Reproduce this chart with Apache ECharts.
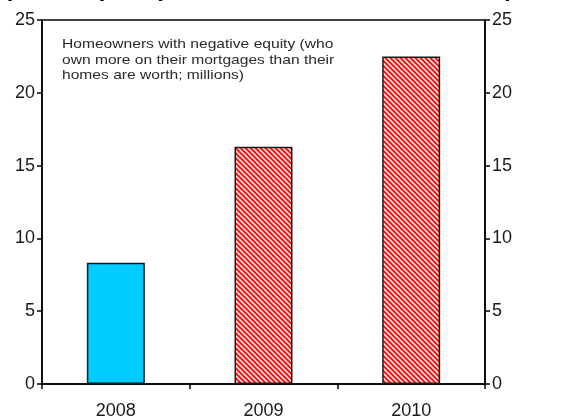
<!DOCTYPE html>
<html>
<head>
<meta charset="utf-8">
<script src="https://cdn.jsdelivr.net/npm/echarts@6/dist/echarts.min.js"></script>
<style>
  html, body { margin: 0; padding: 0; background: #fff; }
  #chart { width: 579px; height: 416px; }
</style>
</head>
<body>
<div id="chart"></div>
<script>
// Homeowners with negative equity, millions
const years = ['2008', '2009', '2010'];
const negEquity = [8.33, 16.3, 22.5];
const yTicks = { min: 0, max: 25, interval: 5 };
const noteLines = [
  'Homeowners with negative equity (who',
  'own more on their mortgages than their',
  'homes are worth; millions)'
];
const titleText = 'Slump in US (Compare the totals of homeowners)';

// Red hatch used for the forecast years
function hatchPattern() {
  const c = document.createElement('canvas');
  c.width = 5; c.height = 5;
  const g = c.getContext('2d');
  g.fillStyle = '#ff1414';
  g.fillRect(0, 0, 5, 5);
  g.strokeStyle = '#ffffff';
  g.lineWidth = 1.4;
  g.beginPath();
  g.moveTo(-1, -1); g.lineTo(6, 6);
  g.moveTo(-4, 1); g.lineTo(1, 6);
  g.moveTo(1, -4); g.lineTo(6, 1);
  g.stroke();
  return c;
}
const hatch = { image: hatchPattern(), repeat: 'repeat' };

const chart = echarts.init(document.getElementById('chart'), null, { renderer: 'canvas' });

const axisLabel = { color: '#1a1a1a', fontSize: 18, fontFamily: '"Liberation Sans", Arial, sans-serif' };
const axisLine = { show: true, lineStyle: { color: '#000', width: 1.5 } };
const axisTick = { show: true, length: 5, lineStyle: { color: '#000', width: 1.5 } };

chart.setOption({
  animation: false,
  grid: {
    left: 42, right: 94, top: 20, bottom: 32,
    outerBoundsMode: 'none',
    containLabel: false,
    show: true, borderColor: '#000', borderWidth: 1.5, backgroundColor: 'transparent'
  },
  graphic: [
    {
      type: 'text', x: 62, y: 37, scaleX: 1.2,
      style: {
        text: noteLines.join('\n'),
        font: '13px "Liberation Sans", Arial, sans-serif',
        lineHeight: 15.5,
        fill: '#2a2a2a'
      }
    },
    {
      type: 'text', x: -52, y: 1.5,
      style: {
        text: titleText,
        font: 'bold 24px "Liberation Sans", Arial, sans-serif',
        verticalAlign: 'bottom',
        fill: '#000'
      }
    }
  ],
  xAxis: {
    type: 'category',
    data: years,
    axisLine: axisLine,
    axisTick: axisTick,
    axisLabel: Object.assign({ margin: 18 }, axisLabel)
  },
  yAxis: [
    {
      type: 'value', position: 'left',
      min: yTicks.min, max: yTicks.max, interval: yTicks.interval,
      splitLine: { show: false },
      axisLine: axisLine,
      axisTick: axisTick,
      axisLabel: Object.assign({ margin: 7 }, axisLabel)
    },
    {
      type: 'value', position: 'right',
      min: yTicks.min, max: yTicks.max, interval: yTicks.interval,
      splitLine: { show: false },
      axisLine: axisLine,
      axisTick: axisTick,
      axisLabel: Object.assign({ margin: 7 }, axisLabel)
    }
  ],
  series: [{
    type: 'bar',
    barWidth: 58,
    data: negEquity.map((v, i) => ({
      value: v,
      itemStyle: {
        color: i === 0 ? '#00ccff' : hatch,
        borderColor: '#1a1a1a',
        borderWidth: 1.5
      }
    }))
  }]
});
</script>
</body>
</html>
